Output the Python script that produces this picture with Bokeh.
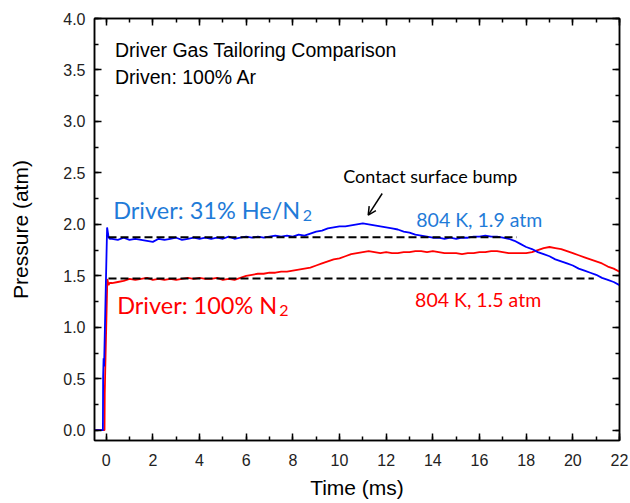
from bokeh.plotting import figure
from bokeh.models import (LinearAxis, SingleIntervalTicker, NumeralTickFormatter,
                          CustomJSTickFormatter, Range1d, Arrow, OpenHead, Label)
from bokeh.embed import file_html
from bokeh.resources import INLINE

# ---------------- data ----------------
t_start_blue = [-0.5, -0.14, -0.13, -0.11, -0.09, 0.04, 0.10, 0.15]
p_start_blue = [0.0, 0.0, 0.52, 0.70, 0.62, 1.97, 1.88, 1.86]
t_start_red = [-0.5, -0.07, -0.06, -0.04, 0.05, 0.10, 0.15]
p_start_red = [0.0, 0.0, 0.36, 0.58, 1.47, 1.41, 1.43]

t_main = [0.25, 0.5, 0.75, 1.0, 1.25, 1.5, 1.75, 2.0, 2.25, 2.5, 2.75, 3.0,
          3.25, 3.5, 3.75, 4.0, 4.25, 4.5, 4.75, 5.0, 5.25, 5.5, 5.75, 6.0,
          6.25, 6.5, 6.75, 7.0, 7.25, 7.5, 7.75, 8.0, 8.25, 8.5, 8.75, 9.0,
          9.25, 9.5, 9.75, 10.0, 10.25, 10.5, 10.75, 11.0, 11.25, 11.5, 11.75, 12.0,
          12.25, 12.5, 12.75, 13.0, 13.25, 13.5, 13.75, 14.0, 14.25, 14.5, 14.75, 15.0,
          15.25, 15.5, 15.75, 16.0, 16.25, 16.5, 16.75, 17.0, 17.25, 17.5, 17.75, 18.0,
          18.25, 18.5, 18.75, 19.0, 19.25, 19.5, 19.75, 20.0, 20.25, 20.5, 20.75, 21.0,
          21.25, 21.5, 21.75, 22.0]

p_blue_main = [1.86, 1.85, 1.87, 1.85, 1.86, 1.85, 1.84, 1.83, 1.86, 1.85, 1.86, 1.87,
               1.85, 1.86, 1.87, 1.86, 1.87, 1.86, 1.87, 1.86, 1.88, 1.86, 1.87, 1.88,
               1.87, 1.88, 1.87, 1.88, 1.89, 1.88, 1.89, 1.88, 1.90, 1.89, 1.91, 1.93,
               1.94, 1.96, 1.97, 1.98, 1.98, 1.99, 2.00, 2.01, 2.00, 1.99, 1.98, 1.97,
               1.96, 1.95, 1.93, 1.92, 1.90, 1.89, 1.88, 1.87, 1.87, 1.86, 1.87, 1.86,
               1.87, 1.87, 1.88, 1.88, 1.89, 1.88, 1.88, 1.87, 1.86, 1.84, 1.81, 1.78,
               1.76, 1.73, 1.71, 1.69, 1.66, 1.64, 1.62, 1.60, 1.57, 1.55, 1.53, 1.51,
               1.48, 1.46, 1.44, 1.41]

p_red_main = [1.43, 1.44, 1.45, 1.47, 1.46, 1.47, 1.48, 1.46, 1.47, 1.46, 1.47, 1.46,
              1.47, 1.48, 1.47, 1.48, 1.47, 1.47, 1.48, 1.46, 1.47, 1.46, 1.48, 1.50,
              1.51, 1.52, 1.52, 1.53, 1.53, 1.54, 1.54, 1.55, 1.56, 1.57, 1.58, 1.60,
              1.62, 1.64, 1.66, 1.67, 1.69, 1.71, 1.72, 1.73, 1.74, 1.73, 1.72, 1.73,
              1.72, 1.72, 1.73, 1.73, 1.74, 1.74, 1.73, 1.74, 1.73, 1.72, 1.72, 1.72,
              1.71, 1.72, 1.72, 1.73, 1.73, 1.74, 1.74, 1.73, 1.72, 1.72, 1.72, 1.72,
              1.73, 1.75, 1.77, 1.78, 1.77, 1.76, 1.74, 1.72, 1.70, 1.68, 1.66, 1.64,
              1.62, 1.59, 1.57, 1.54]

ref_he_t = [0.1, 17.6]
ref_he_p = [1.875, 1.875]
ref_n2_t = [0.1, 20.9]
ref_n2_p = [1.475, 1.475]

x_ticks_interval = 2
y_ticks_interval = 0.5

# ---------------- figure ----------------
p = figure(width=630, height=503, x_range=Range1d(-0.5, 22), y_range=Range1d(-0.1, 4.0),
           output_backend="svg", toolbar_location=None,
           min_border_left=94, min_border_right=11, min_border_top=18, min_border_bottom=63,
           x_axis_label="Time (ms)", y_axis_label="Pressure (atm)")
p.xgrid.visible = False
p.ygrid.visible = False
p.outline_line_color = "black"
p.outline_line_width = 1.5
p.background_fill_color = "white"
p.border_fill_color = "white"

xt = SingleIntervalTicker(interval=x_ticks_interval, num_minor_ticks=2)
yt = SingleIntervalTicker(interval=y_ticks_interval, num_minor_ticks=2)

def style(ax):
    ax.axis_line_width = 1.5
    ax.axis_line_color = "black"
    ax.major_tick_in = 7
    ax.major_tick_out = 0
    ax.minor_tick_in = 4
    ax.minor_tick_out = 0
    ax.major_tick_line_width = 1.5
    ax.minor_tick_line_width = 1.5
    ax.major_label_text_font = "Liberation Sans"
    ax.major_label_text_font_size = "16px"
    ax.major_label_text_color = "#222222"
    ax.axis_label_text_font = "Liberation Sans"
    ax.axis_label_text_font_size = "21px"
    ax.axis_label_text_font_style = "normal"
    ax.axis_label_text_color = "black"

xa = p.xaxis[0]
xa.ticker = xt
style(xa)
xa.formatter = NumeralTickFormatter(format="0")
xa.major_label_standoff = 13
xa.axis_label_standoff = 7

ya = p.yaxis[0]
ya.ticker = yt
style(ya)
ya.formatter = NumeralTickFormatter(format="0.0")
ya.major_label_standoff = 9
ya.axis_label_standoff = 28

blank = CustomJSTickFormatter(code="return '';")

top = LinearAxis(ticker=SingleIntervalTicker(interval=x_ticks_interval, num_minor_ticks=2),
                 formatter=blank)
style(top)
top.major_label_text_font_size = "1px"
top.major_label_standoff = 0
p.add_layout(top, "above")

right = LinearAxis(ticker=SingleIntervalTicker(interval=y_ticks_interval, num_minor_ticks=2),
                   formatter=blank)
style(right)
right.major_label_text_font_size = "1px"
right.major_label_standoff = 0
p.add_layout(right, "right")

# ---------------- curves ----------------
p.line(t_start_red + t_main, p_start_red + p_red_main, line_color="#FF0000", line_width=1.8)
p.line(t_start_blue + t_main, p_start_blue + p_blue_main, line_color="#0000FF", line_width=1.8)
p.line(ref_he_t, ref_he_p, line_color="black", line_width=2, line_dash="8 4")
p.line(ref_n2_t, ref_n2_p, line_color="black", line_width=2, line_dash="8 4")

# ---------------- annotations ----------------
def lab(x, y, text, color, font, size):
    p.add_layout(Label(x=x, y=y, text=text, text_color=color, text_font=font,
                       text_font_size=size, text_baseline="alphabetic", text_align="left"))

blue_txt = "#1F7BD8"
lab(0.38, 3.69, "Driver Gas Tailoring Comparison", "black", "Liberation Sans", "19.5px")
lab(0.38, 3.43, "Driven: 100% Ar", "black", "Liberation Sans", "19.5px")
lab(0.30, 2.14, "Driver: 31% He/N", blue_txt, "Lato", "23.5px")
lab(8.42, 2.09, "2", blue_txt, "Lato", "16px")
lab(0.47, 1.216, "Driver: 100% N", "#FF0000", "Lato", "23.5px")
lab(7.42, 1.167, "2", "#FF0000", "Lato", "16px")
lab(10.16, 2.47, "Contact surface bump", "black", "Lato", "18px")
lab(13.29, 2.05, "804 K, 1.9 atm", blue_txt, "Lato", "19.5px")
lab(13.24, 1.27, "804 K, 1.5 atm", "#FF0000", "Lato", "19.5px")

p.add_layout(Arrow(end=OpenHead(size=8, line_width=1.5, line_color="black"),
                   x_start=11.83, y_start=2.30, x_end=11.23, y_end=2.09,
                   line_width=1.5, line_color="black"))

open("out.html", "w").write(file_html(p, INLINE))
